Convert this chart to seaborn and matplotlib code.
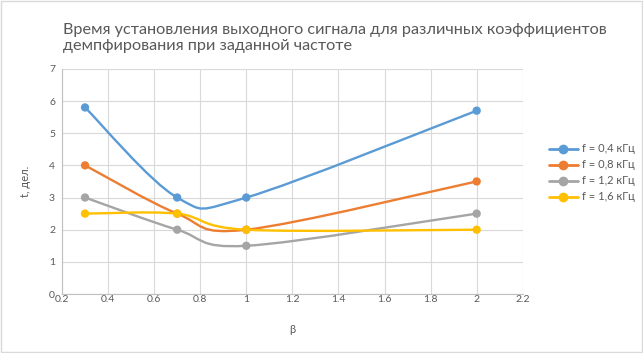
import numpy as np
import pandas as pd
import matplotlib
matplotlib.use("Agg")
import matplotlib.pyplot as plt
from matplotlib.path import Path
from matplotlib.patches import PathPatch, Rectangle
from matplotlib.lines import Line2D
import seaborn as sns

# Data
beta = [0.3, 0.7, 1.0, 2.0]
t_04 = [5.8, 3.0, 3.0, 5.7]
t_08 = [4.0, 2.5, 2.0, 3.5]
t_12 = [3.0, 2.0, 1.5, 2.5]
t_16 = [2.5, 2.5, 2.0, 2.0]
series_names = ["f = 0,4 кГц", "f = 0,8 кГц", "f = 1,2 кГц", "f = 1,6 кГц"]
colors = ["#5B9BD5", "#ED7D31", "#A5A5A5", "#FFC000"]

df = pd.concat([
    pd.DataFrame({"beta": beta, "t": vals, "series": name})
    for name, vals in zip(series_names, [t_04, t_08, t_12, t_16])
])

sns.set_style("white")
plt.rcParams["font.family"] = ["Lato", "DejaVu Sans"]

fig = plt.figure(figsize=(6.43, 3.53), dpi=100)
ax = fig.add_axes([0.0964, 0.167, 0.7166, 0.638])


def smooth_path(xs, ys):
    # Excel-style smoothed line: cubic Bezier segments (Catmull-Rom tangents)
    pts = np.column_stack([xs, ys])
    n = len(pts)
    verts = [pts[0]]
    codes = [Path.MOVETO]
    for i in range(n - 1):
        p_prev = pts[i - 1] if i > 0 else pts[i]
        p_next2 = pts[i + 2] if i + 2 < n else pts[i + 1]
        c1 = pts[i] + (pts[i + 1] - p_prev) / 6
        c2 = pts[i + 1] - (p_next2 - pts[i]) / 6
        verts += [c1, c2, pts[i + 1]]
        codes += [Path.CURVE4] * 3
    return Path(verts, codes)


for name, col in zip(series_names, colors):
    sub = df[df["series"] == name]
    patch = PathPatch(smooth_path(sub["beta"].values, sub["t"].values),
                      facecolor="none", edgecolor=col, lw=1.7,
                      capstyle="round", joinstyle="round", zorder=3)
    ax.add_patch(patch)

sns.scatterplot(data=df, x="beta", y="t", hue="series", palette=colors,
                s=36, edgecolor="none", legend=False, ax=ax, zorder=4)

ax.set_xlim(0.2, 2.2)
ax.set_ylim(0, 7)
ax.set_xticks(np.arange(0.2, 2.21, 0.2))
ax.set_xticklabels(["0.2", "0.4", "0.6", "0.8", "1", "1.2", "1.4", "1.6", "1.8", "2", "2.2"])
ax.set_yticks(range(0, 8))
ax.grid(True, color="#D9D9D9", lw=0.8)
ax.set_axisbelow(True)
for s in ["top", "right"]:
    ax.spines[s].set_visible(False)
for s in ["left", "bottom"]:
    ax.spines[s].set_color("#BFBFBF")
    ax.spines[s].set_linewidth(0.8)
ax.tick_params(colors="#595959", labelsize=7.5, length=0)
ax.tick_params(axis="x", pad=1)
ax.tick_params(axis="y", pad=5)
ax.set_xlabel("β", color="#595959", fontsize=8, labelpad=14)
ax.set_ylabel("t, дел.", color="#595959", fontsize=8, labelpad=13)

fig.text(0.098, 0.935, "Время установления выходного сигнала для различных коэффициентов\nдемпфирования при заданной частоте",
         fontsize=11.7, color="#595959", va="top", ha="left", linespacing=1.2)

handles = [Line2D([0], [0], color=c, lw=2.0, marker="o", markersize=6) for c in colors]
leg = fig.legend(handles, series_names, loc="center left", bbox_to_anchor=(0.838, 0.51),
                 frameon=False, fontsize=8, handlelength=2.6, labelspacing=0.45,
                 handletextpad=0.4)
for txt in leg.get_texts():
    txt.set_color("#595959")

fig.patches.append(Rectangle((0.001, 0.002), 0.997, 0.996, transform=fig.transFigure,
                             fill=False, edgecolor="#D9D9D9", lw=1.0))

fig.savefig("out.png", dpi=100)
